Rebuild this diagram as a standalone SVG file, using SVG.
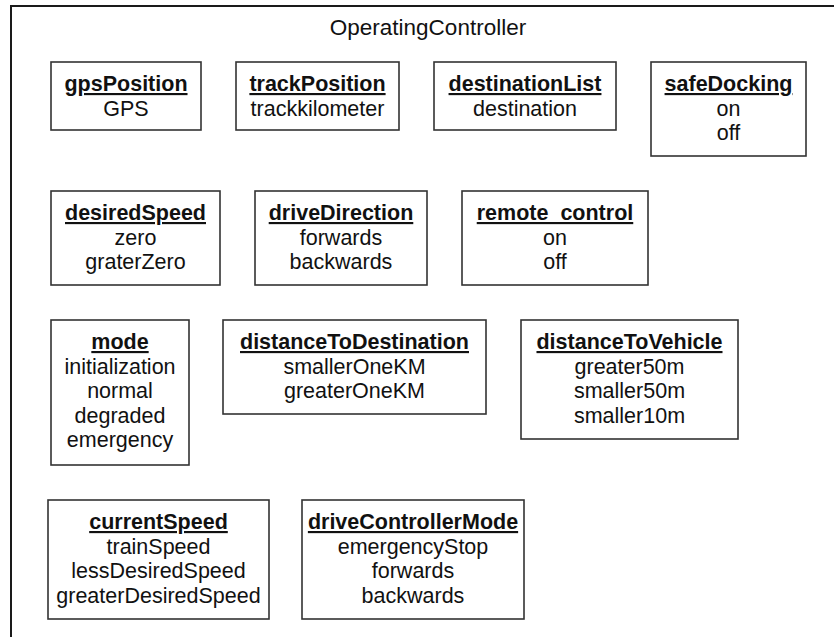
<svg xmlns="http://www.w3.org/2000/svg" width="834" height="637" viewBox="0 0 834 637">
  <style>
    .frame { fill: none; stroke: #1a1a1a; stroke-width: 2; }
    .box { fill: #ffffff; stroke: #333333; stroke-width: 1.6; }
    text { font-family: "Liberation Sans", Arial, sans-serif; font-size: 21.5px; fill: #111111; text-anchor: middle; }
    .name { font-weight: bold; text-decoration: underline; }
    .title { font-size: 22.5px; }
  </style>
  <rect width="834" height="637" fill="#ffffff"/>

  <!-- enclosing component frame (runs off the right and bottom edges) -->
  <rect class="frame" x="11" y="6" width="830" height="640"/>
  <text class="title" x="428" y="35">OperatingController</text>

  <g id="gpsPosition">
    <rect class="box" x="51" y="62" width="150" height="68"/>
    <text class="name" x="126" y="91">gpsPosition</text>
    <text x="126" y="115.5">GPS</text>
  </g>

  <g id="trackPosition">
    <rect class="box" x="236" y="62" width="163" height="68"/>
    <text class="name" x="317.5" y="91">trackPosition</text>
    <text x="317.5" y="115.5">trackkilometer</text>
  </g>

  <g id="destinationList">
    <rect class="box" x="434" y="62" width="182" height="68"/>
    <text class="name" x="525" y="91">destinationList</text>
    <text x="525" y="115.5">destination</text>
  </g>

  <g id="safeDocking">
    <rect class="box" x="651" y="62" width="155" height="94"/>
    <text class="name" x="728.5" y="91">safeDocking</text>
    <text x="728.5" y="115.5">on</text>
    <text x="728.5" y="140">off</text>
  </g>

  <g id="desiredSpeed">
    <rect class="box" x="51" y="191" width="169" height="94"/>
    <text class="name" x="135.5" y="220">desiredSpeed</text>
    <text x="135.5" y="244.5">zero</text>
    <text x="135.5" y="269">graterZero</text>
  </g>

  <g id="driveDirection">
    <rect class="box" x="255" y="191" width="172" height="94"/>
    <text class="name" x="341" y="220">driveDirection</text>
    <text x="341" y="244.5">forwards</text>
    <text x="341" y="269">backwards</text>
  </g>

  <g id="remote_control">
    <rect class="box" x="462" y="191" width="186" height="94"/>
    <text class="name" x="555" y="220">remote_control</text>
    <text x="555" y="244.5">on</text>
    <text x="555" y="269">off</text>
  </g>

  <g id="mode">
    <rect class="box" x="51" y="320" width="138" height="145"/>
    <text class="name" x="120" y="349">mode</text>
    <text x="120" y="373.5">initialization</text>
    <text x="120" y="398">normal</text>
    <text x="120" y="422.5">degraded</text>
    <text x="120" y="447">emergency</text>
  </g>

  <g id="distanceToDestination">
    <rect class="box" x="223" y="320" width="263" height="94"/>
    <text class="name" x="354.5" y="349">distanceToDestination</text>
    <text x="354.5" y="373.5">smallerOneKM</text>
    <text x="354.5" y="398">greaterOneKM</text>
  </g>

  <g id="distanceToVehicle">
    <rect class="box" x="521" y="320" width="217" height="119"/>
    <text class="name" x="629.5" y="349">distanceToVehicle</text>
    <text x="629.5" y="373.5">greater50m</text>
    <text x="629.5" y="398">smaller50m</text>
    <text x="629.5" y="422.5">smaller10m</text>
  </g>

  <g id="currentSpeed">
    <rect class="box" x="48" y="500" width="221" height="119"/>
    <text class="name" x="158.5" y="529">currentSpeed</text>
    <text x="158.5" y="553.5">trainSpeed</text>
    <text x="158.5" y="578">lessDesiredSpeed</text>
    <text x="158.5" y="602.5">greaterDesiredSpeed</text>
  </g>

  <g id="driveControllerMode">
    <rect class="box" x="302" y="500" width="222" height="119"/>
    <text class="name" x="413" y="529">driveControllerMode</text>
    <text x="413" y="553.5">emergencyStop</text>
    <text x="413" y="578">forwards</text>
    <text x="413" y="602.5">backwards</text>
  </g>

  <!-- no connectors between the attribute boxes -->
  <g id="connectors"/>
</svg>
